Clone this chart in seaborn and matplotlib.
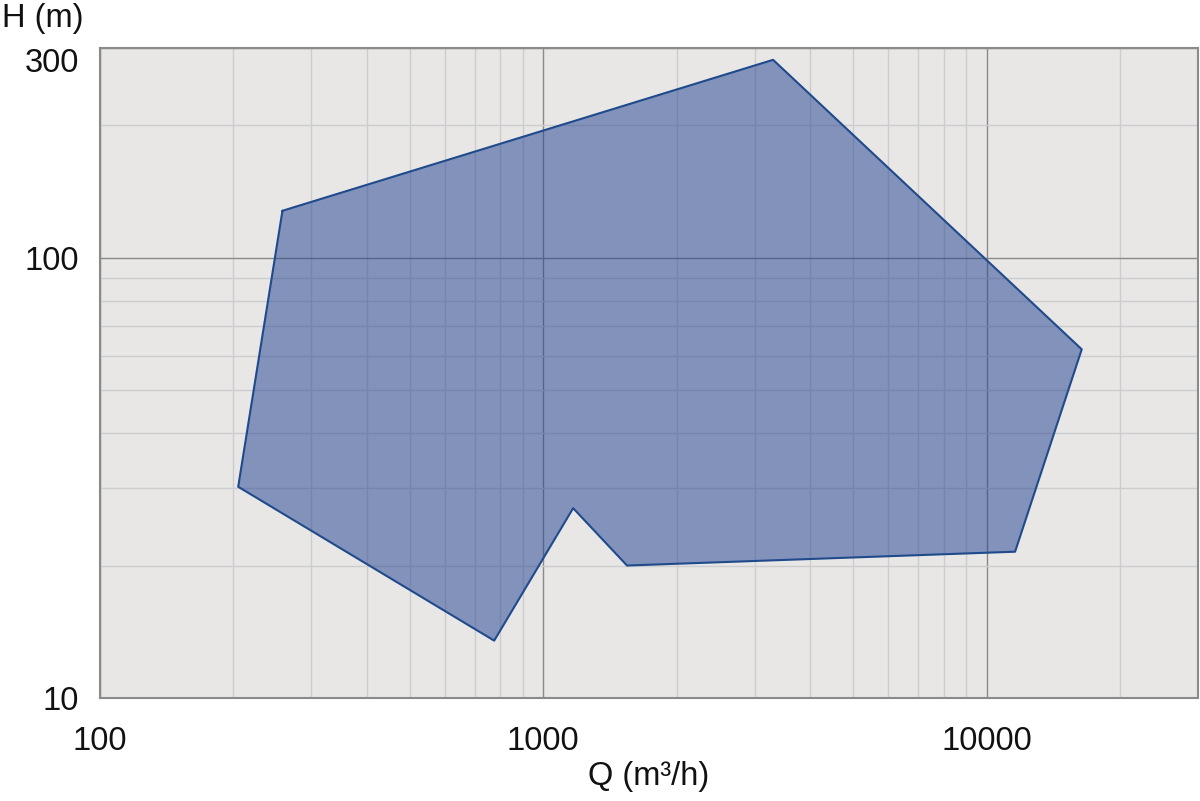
import matplotlib
matplotlib.use("Agg")
import matplotlib.pyplot as plt
import matplotlib.transforms as mtransforms
import seaborn as sns
import pandas as pd
from matplotlib.ticker import FixedLocator, NullFormatter

# Data: operating envelope vertices (Q in m3/h, H in m)
q_values = [258, 3300, 16400, 11600, 1545, 1168, 775, 205]
h_values = [128, 282, 62, 21.5, 20.0, 27.0, 13.5, 30.2]
x_tick_labels = ["100", "1000", "10000"]
y_tick_labels = ["10", "100", "300"]
x_ticks = [100, 1000, 10000]
y_ticks = [10, 100, 300]

sns.set_theme(style="white")
plt.rcParams['font.family'] = ['Liberation Sans', 'DejaVu Sans']

fig = plt.figure(figsize=(12, 8.01), dpi=100)
ax = fig.add_axes([100/1200, 1 - 698/801, 1098/1200, 650/801])
ax.set_facecolor("#e8e7e6")

ax.set_xscale("log")
ax.set_yscale("log")
ax.set_xlim(100, 30000)
ax.set_ylim(10, 300)

# grid
ax.xaxis.set_minor_locator(FixedLocator([m * 10**e for e in (2, 3, 4) for m in range(2, 10) if m * 10**e < 30000]))
ax.yaxis.set_minor_locator(FixedLocator([m * 10**e for e in (1, 2) for m in range(2, 10) if m * 10**e < 300]))
ax.xaxis.set_major_locator(FixedLocator(x_ticks))
ax.yaxis.set_major_locator(FixedLocator(y_ticks))
ax.set_xticklabels(x_tick_labels)
ax.set_yticklabels(y_tick_labels)
ax.xaxis.set_minor_formatter(NullFormatter())
ax.yaxis.set_minor_formatter(NullFormatter())
ax.grid(which="minor", color="#cdcdcd", linewidth=1.0)
ax.grid(which="major", color="#8a8a8a", linewidth=1.0)
ax.set_axisbelow(True)

ax.tick_params(which="both", length=0)
ax.tick_params(axis="x", pad=20, labelsize=23.5, colors="#111111")
ax.tick_params(axis="y", pad=15, labelsize=23.5, colors="#111111")

# shift the top "300" label down a bit as in the reference
ylabels = ax.get_yticklabels()
ylabels[-1].set_transform(ylabels[-1].get_transform() +
                          mtransforms.ScaledTranslation(0, -12/100, fig.dpi_scale_trans))

for s in ax.spines.values():
    s.set_color("#8a8a8a")
    s.set_linewidth(1.5)

# polygon
df = pd.DataFrame({"Q": q_values + [q_values[0]], "H": h_values + [h_values[0]]})
ax.fill(q_values, h_values, color="#1f3f8f", alpha=0.5, linewidth=0, zorder=2)
sns.lineplot(data=df, x="Q", y="H", sort=False, estimator=None, ax=ax,
             color="#1f4a8c", linewidth=1.5, zorder=3)

ax.set_xlabel("")
ax.set_ylabel("")
fig.text(649/1200, 1 - 777/801, "Q (m³/h)", fontsize=23.5, color="#111111", va="center", ha="center")
fig.text(2/1200, 1 - 19/801, "H (m)", fontsize=23.5, color="#111111", va="center", ha="left")

fig.savefig("out.png", dpi=100)
